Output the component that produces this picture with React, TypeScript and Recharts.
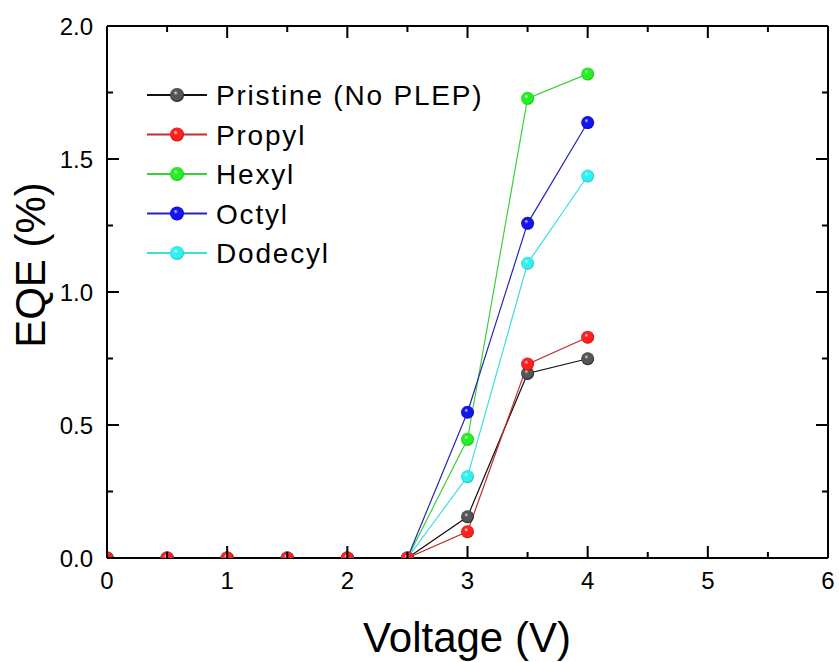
import { LineChart, Line, XAxis, YAxis, Legend } from 'recharts'

// bias voltage (V)
const voltage = [0, 0.5, 1, 1.5, 2, 2.5, 3, 3.5, 4]

// EQE (%) per side chain
const pristine = [0, 0, 0, 0, 0, 0, 0.155, 0.694, 0.749]
const propyl = [0, 0, 0, 0, 0, 0, 0.099, 0.729, 0.83]
const hexyl = [0, 0, 0, 0, 0, 0, 0.446, 1.728, 1.82]
const octyl = [0, 0, 0, 0, 0, 0, 0.548, 1.258, 1.637]
const dodecyl = [0, 0, 0, 0, 0, 0, 0.306, 1.108, 1.436]

const xTicks = [0, 0.5, 1, 1.5, 2, 2.5, 3, 3.5, 4, 4.5, 5, 5.5, 6]
const yTicks = [0, 0.25, 0.5, 0.75, 1, 1.25, 1.5, 1.75, 2]

const X_MAX = 6
const Y_MAX = 2

const W = 839
const H = 662
// plot box inside the frame
const PLOT = { left: 107, right: 828, top: 26, bottom: 558 }

const FONT = '"Liberation Sans", Arial, sans-serif'

const series = [
  { key: 'pristine', name: 'Pristine (No PLEP)', line: '#111111', ball: ['#e0e0e0', '#555555', '#000000'] },
  { key: 'propyl', name: 'Propyl', line: '#c42a2a', ball: ['#ffe0e0', '#ff2020', '#b00000'] },
  { key: 'hexyl', name: 'Hexyl', line: '#3ccf3c', ball: ['#eaffea', '#22f022', '#10a010'] },
  { key: 'octyl', name: 'Octyl', line: '#2424b8', ball: ['#d8d8ff', '#1414ee', '#000090'] },
  { key: 'dodecyl', name: 'Dodecyl', line: '#3cdede', ball: ['#f0ffff', '#30f0f0', '#10a8a8'] },
]

// propyl last so its balls sit on top along the zero line
const drawOrder = ['pristine', 'hexyl', 'octyl', 'dodecyl', 'propyl']

const data = voltage.map((v, i) => ({
  v,
  pristine: pristine[i],
  propyl: propyl[i],
  hexyl: hexyl[i],
  octyl: octyl[i],
  dodecyl: dodecyl[i],
}))

const onHalf = (v: number) => Math.abs(v * 2 - Math.round(v * 2)) < 1e-6

const bottomTick = ({ x, y, payload }: any) =>
  Number.isInteger(payload.value) ? (
    <text x={x} y={y + 31} textAnchor="middle" fontSize={24} fontFamily={FONT} fill="#000">
      {payload.value}
    </text>
  ) : (
    <g />
  )

const leftTick = ({ x, y, payload }: any) =>
  onHalf(payload.value) ? (
    <text x={x - 14} y={y + 8.5} textAnchor="end" fontSize={24} fontFamily={FONT} fill="#000">
      {payload.value.toFixed(1)}
    </text>
  ) : (
    <g />
  )

// inward tick marks on all four sides of the frame, laid over the chart
function FrameTicks() {
  const sx = (v: number) => PLOT.left + (v / X_MAX) * (PLOT.right - PLOT.left)
  const sy = (v: number) => PLOT.bottom - (v / Y_MAX) * (PLOT.bottom - PLOT.top)
  const marks: { x: number; y: number; w: number; h: number }[] = []
  xTicks.forEach((t) => {
    const len = Number.isInteger(t) ? 12 : 6
    const x = sx(t) - 1
    marks.push({ x, y: PLOT.bottom - len, w: 2, h: len }, { x, y: PLOT.top, w: 2, h: len })
  })
  yTicks.forEach((t) => {
    const len = onHalf(t) ? 12 : 6
    const y = sy(t) - 1
    marks.push({ x: PLOT.left, y, w: len, h: 2 }, { x: PLOT.right - len, y, w: len, h: 2 })
  })
  return (
    <svg
      width={W}
      height={H}
      style={{ position: 'absolute', left: 0, top: 0, zIndex: 10, pointerEvents: 'none' }}
    >
      {marks.map((m, i) => (
        <rect key={i} x={m.x} y={m.y} width={m.w} height={m.h} fill="#000" />
      ))}
    </svg>
  )
}

function Ball({ cx, cy, id, r = 6.5 }: { cx: number; cy: number; id: string; r?: number }) {
  return <circle cx={cx} cy={cy} r={r} fill={`url(#ball-${id})`} />
}

function LegendBox() {
  return (
    <svg width={400} height={210}>
      {series.map((s, i) => {
        const cy = 25 + i * 39.5
        return (
          <g key={s.key}>
            <line x1={7} x2={67} y1={cy} y2={cy} stroke={s.line} strokeWidth={2} />
            <Ball cx={37} cy={cy} id={s.key} r={7} />
            <text x={76} y={cy + 10} fontSize={28} letterSpacing={1.8} fontFamily={FONT} fill="#000">
              {s.name}
            </text>
          </g>
        )
      })}
    </svg>
  )
}

export default function App() {
  return (
    <div style={{ position: 'absolute', left: 0, top: 0, width: W, height: H, background: '#fff' }}>
      <div style={{ position: 'absolute', left: 0, top: 0 }}>
        <LineChart width={W} height={H} data={data} margin={{ top: 25, right: 10, bottom: 0, left: 0 }}>
          <defs>
            {series.map((s) => (
              <radialGradient key={s.key} id={`ball-${s.key}`} cx="50%" cy="50%" r="55%" fx="38%" fy="32%">
                <stop offset="0%" stopColor={s.ball[0]} />
                <stop offset="30%" stopColor={s.ball[1]} />
                <stop offset="75%" stopColor={s.ball[1]} />
                <stop offset="100%" stopColor={s.ball[2]} />
              </radialGradient>
            ))}
          </defs>
          <XAxis
            dataKey="v"
            type="number"
            domain={[0, X_MAX]}
            ticks={xTicks}
            interval={0}
            allowDataOverflow
            height={104}
            tickSize={0}
            tickMargin={0}
            tickLine={false}
            tick={bottomTick}
            axisLine={{ stroke: '#000', strokeWidth: 2 }}
            label={{
              content: () => (
                <text x={467} y={652} textAnchor="middle" fontSize={42} fontFamily={FONT} fill="#000">
                  Voltage (V)
                </text>
              ),
            }}
          />
          <XAxis
            xAxisId="top"
            orientation="top"
            type="number"
            domain={[0, X_MAX]}
            allowDataOverflow
            height={1}
            tickLine={false}
            tick={false}
            axisLine={{ stroke: '#000', strokeWidth: 2 }}
          />
          <YAxis
            type="number"
            domain={[0, Y_MAX]}
            ticks={yTicks}
            interval={0}
            allowDataOverflow
            width={107}
            tickSize={0}
            tickMargin={0}
            tickLine={false}
            tick={leftTick}
            axisLine={{ stroke: '#000', strokeWidth: 2 }}
            label={{
              content: () => (
                <text
                  x={45}
                  y={265}
                  transform="rotate(-90 45 265)"
                  textAnchor="middle"
                  fontSize={42}
                  fontFamily={FONT}
                  fill="#000"
                >
                  EQE (%)
                </text>
              ),
            }}
          />
          <YAxis
            yAxisId="right"
            orientation="right"
            type="number"
            domain={[0, Y_MAX]}
            allowDataOverflow
            width={1}
            tickLine={false}
            tick={false}
            axisLine={{ stroke: '#000', strokeWidth: 2 }}
          />
          <Legend
            layout="vertical"
            align="center"
            verticalAlign="middle"
            wrapperStyle={{ left: 140, top: 70, width: 400, height: 210 }}
            content={() => <LegendBox />}
          />
          {drawOrder.map((k) => {
            const s = series.find((d) => d.key === k)!
            return (
              <Line
                key={k}
                type="linear"
                dataKey={k}
                name={s.name}
                stroke={s.line}
                strokeWidth={1.2}
                dot={(p: any) => <Ball key={`${k}-${p.index}`} cx={p.cx} cy={p.cy} id={k} />}
                activeDot={false}
                isAnimationActive={false}
              />
            )
          })}
        </LineChart>
      </div>
      <FrameTicks />
    </div>
  )
}
